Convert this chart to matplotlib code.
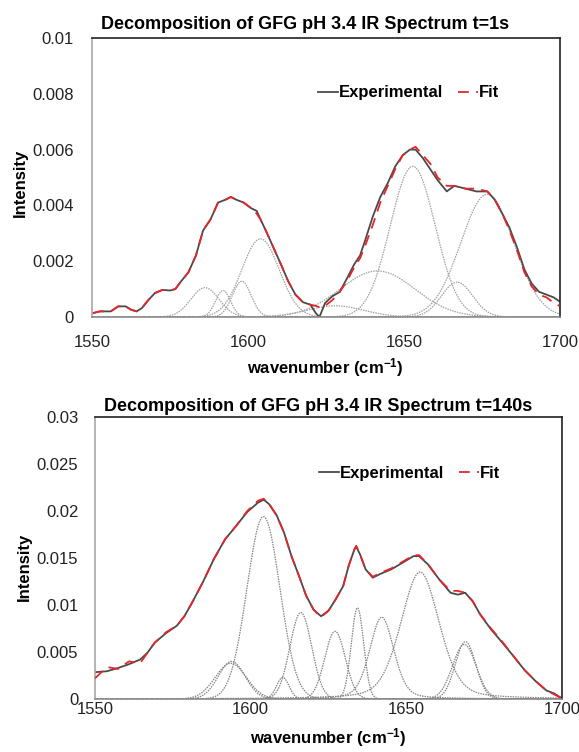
import numpy as np
import matplotlib
matplotlib.use("Agg")
import matplotlib.pyplot as plt
from matplotlib.lines import Line2D

plt.rcParams['font.family'] = ['Liberation Sans', 'DejaVu Sans']
plt.rcParams['mathtext.fontset'] = 'custom'
plt.rcParams['mathtext.rm'] = 'Liberation Sans:bold'
plt.rcParams['mathtext.default'] = 'rm'

# ---- t = 1 s panel ----
wn_1s = [1550.4, 1552.5, 1556.0, 1558.4, 1560.8, 1562.5, 1564.3, 1566.0, 1568.0, 1570.2,
         1572.6, 1575.0, 1576.7, 1578.5, 1580.9, 1583.3, 1585.6, 1588.0, 1590.4, 1592.7,
         1594.5, 1596.3, 1598.6, 1601.0, 1602.8, 1604.0, 1605.7, 1608.1, 1610.5, 1612.8,
         1615.2, 1617.6, 1620.0, 1621.7, 1622.9, 1624.7, 1627.0, 1629.4, 1631.8, 1634.1,
         1635.9, 1637.7, 1640.0, 1642.4, 1644.8, 1647.2, 1649.6, 1651.9, 1653.7, 1656.0,
         1658.4, 1660.8, 1663.7, 1666.1, 1669.7, 1673.2, 1676.7, 1679.1, 1681.5, 1683.8,
         1686.2, 1688.6, 1690.9, 1693.3, 1695.7, 1698.0, 1699.8]
exp_1s = [0.00014, 0.0002, 0.0002, 0.00038, 0.00038, 0.00026, 0.0002, 0.00032, 0.0006, 0.00086,
          0.00097, 0.00095, 0.001, 0.00127, 0.0016, 0.0022, 0.0031, 0.0035, 0.0041, 0.0042,
          0.0043, 0.0042, 0.0041, 0.0039, 0.0038, 0.0035, 0.0031, 0.0025, 0.0019, 0.0013,
          0.0008, 0.00053, 0.00044, 0.00014, 0.0, 0.0005, 0.00074, 0.0009, 0.0014, 0.0019,
          0.0022, 0.0028, 0.0036, 0.0043, 0.0048, 0.0054, 0.0058, 0.006, 0.006, 0.0057,
          0.0053, 0.0049, 0.0045, 0.0047, 0.0046, 0.0045, 0.0045, 0.0042, 0.0037, 0.0032,
          0.0025, 0.0017, 0.0012, 0.0009, 0.0008, 0.0007, 0.00056]
fit_1s = [0.00014, 0.0002, 0.0002, 0.00038, 0.00038, 0.00026, 0.0002, 0.00032, 0.0006, 0.00086,
          0.00097, 0.00095, 0.001, 0.00127, 0.0016, 0.0022, 0.0031, 0.0035, 0.0041, 0.0042,
          0.0043, 0.0042, 0.0041, 0.0039, 0.0037, 0.0035, 0.0031, 0.0025, 0.0019, 0.0013,
          0.0008, 0.00053, 0.00044, 0.0004, 0.00035, 0.0004, 0.0006, 0.0009, 0.0013, 0.0018,
          0.0021, 0.0026, 0.0033, 0.0041, 0.0047, 0.0053, 0.0058, 0.006, 0.0061, 0.0058,
          0.0055, 0.005, 0.0047, 0.0047, 0.0046, 0.0046, 0.0045, 0.0042, 0.0037, 0.0031,
          0.0024, 0.0016, 0.0011, 0.0008, 0.0007, 0.0005, 0.0004]
# fitted components: centre, height, width (sigma), lorentzian share
pk_pos_1s = [1586.2, 1592.0, 1598.0, 1604.0, 1628.0, 1641.5, 1652.8, 1667.0, 1676.7]
pk_amp_1s = [0.00105, 0.00095, 0.00128, 0.0028, 0.0004, 0.00165, 0.0054, 0.00125, 0.0044]
pk_wid_1s = [4.5, 2.4, 3.0, 6.0, 9.0, 12.0, 7.2, 5.0, 8.5]
pk_lor_1s = [0, 0, 0, 0, 0, 0, 0, 0, 0]

# ---- t = 140 s panel ----
wn_140s = [1550.0, 1553.8, 1557.4, 1560.9, 1564.5, 1566.8, 1569.2, 1572.8, 1576.3, 1578.7,
           1581.1, 1584.6, 1588.2, 1591.8, 1595.3, 1598.9, 1602.4, 1604.2, 1606.0, 1608.4,
           1610.7, 1613.1, 1615.5, 1617.8, 1620.2, 1622.6, 1625.0, 1627.3, 1629.7, 1631.5,
           1633.3, 1633.9, 1635.1, 1636.9, 1639.2, 1641.6, 1645.2, 1648.8, 1652.3, 1654.1,
           1657.0, 1660.6, 1664.2, 1666.5, 1668.9, 1671.3, 1673.7, 1677.2, 1680.8, 1684.3,
           1687.9, 1691.5, 1695.0, 1697.4, 1699.8]
exp_140s = [0.00285, 0.00295, 0.0033, 0.0037, 0.0042, 0.0049, 0.006, 0.007, 0.0078, 0.0088,
            0.0102, 0.0124, 0.0149, 0.017, 0.0184, 0.0199, 0.0209, 0.0212, 0.0207, 0.0195,
            0.0177, 0.0152, 0.0131, 0.011, 0.0095, 0.0088, 0.0094, 0.0106, 0.012, 0.0142,
            0.0159, 0.0162, 0.0154, 0.0138, 0.0129, 0.0133, 0.0138, 0.0145, 0.0152, 0.0152,
            0.0143, 0.0127, 0.0113, 0.0111, 0.0113, 0.0104, 0.009, 0.0074, 0.006, 0.0046,
            0.0031, 0.0019, 0.0009, 0.0006, 0.0001]
fit_140s = [0.0022, 0.0034, 0.0032, 0.004, 0.0038, 0.0049, 0.006, 0.0071, 0.0078, 0.0088,
            0.0102, 0.0124, 0.0149, 0.017, 0.0184, 0.02, 0.0211, 0.0213, 0.0207, 0.0195,
            0.0177, 0.0152, 0.0131, 0.011, 0.0095, 0.0087, 0.0094, 0.0106, 0.012, 0.0142,
            0.0159, 0.0163, 0.0154, 0.0138, 0.013, 0.0134, 0.0139, 0.0146, 0.0153, 0.0153,
            0.0143, 0.0127, 0.0115, 0.0115, 0.0113, 0.0104, 0.009, 0.0075, 0.0061, 0.0046,
            0.0031, 0.0019, 0.0009, 0.0005, 0.0001]
pk_pos_140s = [1593.9, 1593.6, 1604.1, 1610.3, 1616.1, 1627.1, 1634.3, 1642.1, 1654.4, 1669.0, 1668.6]
pk_amp_140s = [0.0040, 0.0038, 0.0194, 0.0023, 0.0092, 0.0072, 0.0097, 0.0087, 0.0135, 0.0061, 0.0058]
pk_wid_140s = [4.3, 5.0, 5.3, 2.0, 3.5, 3.3, 2.0, 3.9, 6.2, 3.3, 3.8]
pk_lor_140s = [0, 0, 0, 0, 0, 0, 0, 0.3, 0.3, 0, 0]

yticks_1s = [0, 0.002, 0.004, 0.006, 0.008, 0.01]
ylabels_1s = ['0', '0.002', '0.004', '0.006', '0.008', '0.01']
yticks_140s = [0, 0.005, 0.01, 0.015, 0.02, 0.025, 0.03]
ylabels_140s = ['0', '0.005', '0.01', '0.015', '0.02', '0.025', '0.03']
xticks = [1550, 1600, 1650, 1700]


def peak(x, c, a, w, eta):
    g = np.exp(-0.5 * ((x - c) / w) ** 2)
    hw = w * 1.1774
    l = 1.0 / (1.0 + ((x - c) / hw) ** 2)
    return a * ((1 - eta) * g + eta * l)


def draw_panel(ax, wn, exp, fit, pos, amp, wid, lor, yticks, ylabels, ymax, xpad, ypad, comp_col):
    xs = np.linspace(1550, 1700, 601)
    for c, a, w, e in zip(pos, amp, wid, lor):
        ax.plot(xs, peak(xs, c, a, w, e), color=comp_col, lw=0.9,
                linestyle=(0, (1.2, 0.8)), zorder=1)
    ax.plot(wn, exp, color='#4a4a4a', lw=1.3, zorder=2)
    ax.plot(wn, fit, color='#e3262b', lw=1.3, linestyle=(0, (6, 4)), zorder=3)
    ax.set_xlim(1550, 1700)
    ax.set_ylim(0, ymax)
    ax.set_xticks(xticks)
    ax.set_xticklabels([str(t) for t in xticks])
    ax.set_yticks(yticks)
    ax.set_yticklabels(ylabels)
    ax.tick_params(length=0, labelsize=12, colors='#222222')
    ax.tick_params(axis='x', pad=xpad)
    ax.tick_params(axis='y', pad=ypad)
    ax.spines['top'].set_color('#222222')
    ax.spines['right'].set_color('#222222')
    ax.spines['left'].set_color('#a8a8a8')
    ax.spines['bottom'].set_color('#8c8c8c')
    for s in ax.spines.values():
        s.set_linewidth(1.2)


fig = plt.figure(figsize=(5.79, 7.52), dpi=100)
ax1 = fig.add_axes([0.1589, 0.5785, 0.8083, 0.3710])
ax2 = fig.add_axes([0.1641, 0.0705, 0.8066, 0.3750])

draw_panel(ax1, wn_1s, exp_1s, fit_1s, pk_pos_1s, pk_amp_1s, pk_wid_1s, pk_lor_1s,
           yticks_1s, ylabels_1s, 0.01, 13, 13, '#a2a2a2')
draw_panel(ax2, wn_140s, exp_140s, fit_140s, pk_pos_140s, pk_amp_140s, pk_wid_140s, pk_lor_140s,
           yticks_140s, ylabels_140s, 0.03, 2, 12, '#858585')

handles = [Line2D([], [], color='#4a4a4a', lw=1.3),
           Line2D([], [], color='#e3262b', lw=1.3, linestyle=(0, (6, 4)))]
for ax, anchor in [(ax1, (0.483, 0.803)), (ax2, (0.48, 0.80))]:
    ax.legend(handles, ['Experimental', 'Fit'], loc='center left', bbox_to_anchor=anchor,
              ncol=2, frameon=False, handlelength=1.2, handletextpad=0.05,
              columnspacing=0.9, borderpad=0, borderaxespad=0,
              prop={'weight': 'bold', 'size': 12})

fig.text(0.527, 0.9668, 'Decomposition of GFG pH 3.4 IR Spectrum t=1s', ha='center', va='center',
         fontsize=13, fontweight='bold')
fig.text(0.549, 0.4588, 'Decomposition of GFG pH 3.4 IR Spectrum t=140s', ha='center', va='center',
         fontsize=13, fontweight='bold')
fig.text(0.561, 0.5106, 'wavenumber (cm$^{-1}$)', ha='center', va='center',
         fontsize=12, fontweight='bold')
fig.text(0.567, 0.004, 'wavenumber (cm$^{-1}$)', ha='center', va='bottom',
         fontsize=12, fontweight='bold')
fig.text(0.0345, 0.7566, 'Intensity', rotation=90, ha='center', va='center',
         fontsize=12, fontweight='bold')
fig.text(0.0415, 0.246, 'Intensity', rotation=90, ha='center', va='center',
         fontsize=12, fontweight='bold')

fig.savefig('out.png', dpi=100, facecolor='white')
